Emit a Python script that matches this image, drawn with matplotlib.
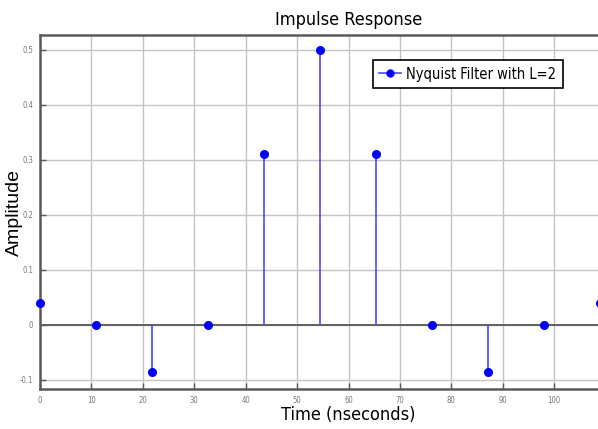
import matplotlib
matplotlib.use("Agg")
import matplotlib.pyplot as plt
from matplotlib.legend_handler import HandlerLine2D
from matplotlib.lines import Line2D

# sample times (ns) and filter taps
t = [0, 10.9, 21.8, 32.7, 43.6, 54.5, 65.4, 76.3, 87.2, 98.1, 109.0]
h = [0.04, 0.0, -0.086, 0.0, 0.311, 0.5, 0.311, 0.0, -0.086, 0.0, 0.04]
xticks = [0, 10, 20, 30, 40, 50, 60, 70, 80, 90, 100]
yticks = [-0.1, 0, 0.1, 0.2, 0.3, 0.4, 0.5]
ytick_labels = ["-0.1", "0", "0.1", "0.2", "0.3", "0.4", "0.5"]

narrow = ["Liberation Sans Narrow", "DejaVu Sans"]
STRETCH = "condensed"


class EndMarkerHandler(HandlerLine2D):
    # put the legend marker at the right end of the line
    def get_xdata(self, legend, xdescent, ydescent, width, height, fontsize):
        xdata, _ = super().get_xdata(legend, xdescent, ydescent, width, height, fontsize)
        return xdata, xdata[-1:]


fig = plt.figure(figsize=(5.98, 4.29), dpi=100)
ax = fig.add_axes([40 / 598, 40 / 429, 617 / 598, 354 / 429])

ax.set_xlim(0, 120)
ax.set_ylim(-0.117, 0.527)

ax.grid(True, color="#c4c4c4", linewidth=1.0)
ax.set_axisbelow(True)
ax.axhline(0, color="#606060", linewidth=1.4, zorder=1)

ax.vlines(t, 0, h, colors="#4a4aff", linewidth=1.2, zorder=2)
ax.plot(t, h, linestyle="none", marker="o", markersize=5.5, color="#0000ff",
        clip_on=False, zorder=3)

for side in ["left", "bottom", "top", "right"]:
    ax.spines[side].set_color("#5a5a5a")
    ax.spines[side].set_linewidth(1.8)

ax.set_xticks(xticks)
ax.set_yticks(yticks)
ax.set_yticklabels(ytick_labels)
ax.tick_params(axis="both", direction="in", length=4, width=1, color="#5a5a5a",
               labelsize=5.5, labelcolor="#777777", pad=5)
for lbl in ax.get_xticklabels() + ax.get_yticklabels():
    lbl.set_family(narrow)
    lbl.set_stretch(STRETCH)

ax.set_title("Impulse Response", fontsize=13, family=narrow, stretch=STRETCH, pad=7)
ax.set_xlabel("Time (nseconds)", fontsize=13, family=narrow, stretch=STRETCH,
              labelpad=1)
ax.set_ylabel("Amplitude", fontsize=14, family=["Liberation Sans", "DejaVu Sans"])
ax.yaxis.set_label_coords(-17 / 617, 0.5)

handle = Line2D([], [], color="#4a4aff", linewidth=1.2, marker="o",
                markersize=5, markerfacecolor="#0000ff", markeredgecolor="#0000ff")
leg = ax.legend([handle], ["Nyquist Filter with L=2"],
                handler_map={Line2D: EndMarkerHandler()},
                loc="upper right", bbox_to_anchor=(523 / 617, 1 - 25 / 354),
                fancybox=False, framealpha=1, edgecolor="black",
                prop={"family": narrow, "size": 10.5, "stretch": STRETCH},
                handlelength=1.5, handletextpad=0.35, borderpad=0.45,
                borderaxespad=0)
leg.get_frame().set_linewidth(1.2)

fig.savefig("out.png", dpi=100)
